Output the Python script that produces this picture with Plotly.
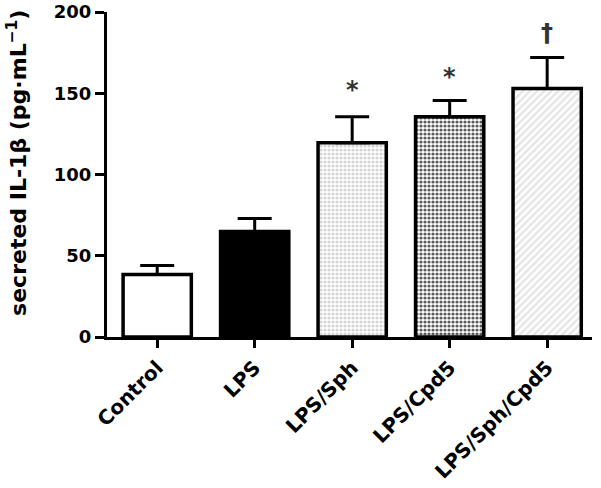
import plotly.graph_objects as go

categories = ["Control", "LPS", "LPS/Sph", "LPS/Cpd5", "LPS/Sph/Cpd5"]
means = [38.5, 65, 119.5, 135.5, 153]
errors = [5.5, 8, 16, 10, 19]
marks = ["", "", "*", "*", "†"]
mark_y = [0, 0, 152, 160, 187]
y_title = "secreted IL-1β (pg·mL<sup>−1</sup>)"

fills = ["white", "black", "#d4d4d4", "#5a5a5a", "#e6e6e6"]
pat_shapes = ["", "", ".", ".", "/"]
pat_fg = ["black", "black", "#9a9a9a", "#2a2a2a", "#777777"]
pat_bg = ["white", "black", "#e4e4e4", "#8a8a8a", "#eeeeee"]
pat_size = [5, 5, 4, 4, 5]

FONT = "DejaVu Sans"

fig = go.Figure()
fig.add_trace(go.Bar(
    x=categories, y=means, width=0.7,
    marker=dict(
        color=fills,
        line=dict(color="black", width=3.5),
        pattern=dict(shape=pat_shapes, fgcolor=pat_fg, bgcolor=pat_bg,
                     size=pat_size, solidity=0.5, fillmode="replace"),
    ),
    error_y=dict(type="data", array=errors, arrayminus=[0]*5, symmetric=False,
                 color="black", thickness=3, width=17),
    showlegend=False,
))

for c, m, y in zip(categories, marks, mark_y):
    if m:
        fig.add_annotation(x=c, y=y, text="<b>" + m + "</b>", showarrow=False,
                           font=dict(family=FONT, size=24, color="#333333"),
                           yanchor="middle")

# y-axis title placed as a rotated annotation for precise positioning
fig.add_annotation(xref="paper", yref="paper", x=-0.186, y=0.535,
                   text="<b>" + y_title + "</b>", textangle=-90, showarrow=False,
                   xanchor="center", yanchor="middle",
                   font=dict(family=FONT, size=22, color="black"))

fig.update_layout(
    width=601, height=488,
    margin=dict(l=107, r=9, t=12, b=151),
    plot_bgcolor="white", paper_bgcolor="white",
    font=dict(family=FONT, color="black"),
    bargap=0.3,
)
fig.update_xaxes(
    range=[-0.515, 4.46], showline=True, linecolor="black", linewidth=3,
    ticks="outside", ticklen=8, tickwidth=3, tickcolor="black",
    tickangle=-45, tickfont=dict(family=FONT, size=20, weight="bold"),
    showgrid=False, zeroline=False, automargin=False, ticklabeloverflow="allow",
)
fig.update_yaxes(
    range=[0, 200], tickvals=[0, 50, 100, 150, 200], showline=True,
    linecolor="black", linewidth=3, ticks="outside", ticklen=9, tickwidth=3,
    tickcolor="black", tickfont=dict(family=FONT, size=18, weight="bold"),
    showgrid=False, zeroline=False, automargin=False, ticklabeloverflow="allow",
)

fig.write_html("out.html", config={"displayModeBar": False},
               post_script="document.body.style.margin='0px';document.body.style.padding='0px';")
